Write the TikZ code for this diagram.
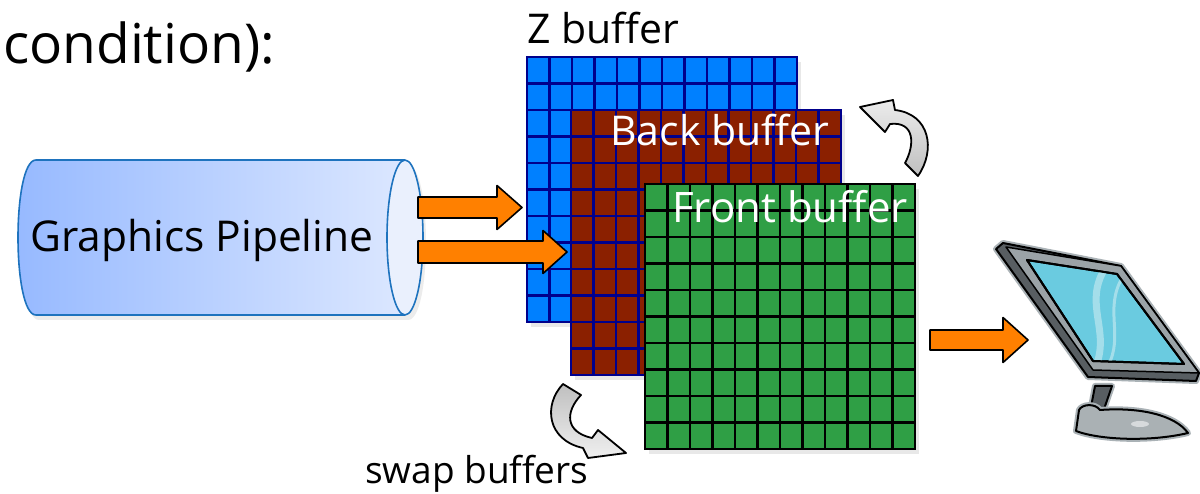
\documentclass[tikz,border=0pt]{standalone}
\usepackage{fontspec}
\setmainfont[Ligatures=NoCommon]{Open Sans}
\usetikzlibrary{calc,shadows}

\definecolor{zblue}{RGB}{0,128,255}
\definecolor{navy}{RGB}{0,0,140}
\definecolor{backred}{RGB}{139,32,0}
\definecolor{frontgreen}{RGB}{47,159,69}
\definecolor{arroworange}{RGB}{255,128,0}
\definecolor{pipeleft}{RGB}{150,185,255}
\definecolor{piperight}{RGB}{224,234,255}
\definecolor{pipeend}{RGB}{234,240,253}
\definecolor{pipeline}{RGB}{30,115,190}
\definecolor{screencyan}{RGB}{106,203,224}
\definecolor{screenglare}{RGB}{164,222,234}
\definecolor{framedark}{RGB}{88,94,98}
\definecolor{framelight}{RGB}{155,163,167}
\definecolor{halo}{RGB}{170,178,182}

% a 12 x 10 pixel buffer: #1,#2 top-left corner, #3 fill, #4 grid colour
\newcommand\drawbuffer[4]{%
  \fill[#3, drop shadow={opacity=0.18, shadow xshift=4pt, shadow yshift=-5pt}]
    (#1,#2) rectangle ++(270,265);
  \foreach \i in {0,...,12}
    \draw[#4, line width=2.6pt, line cap=rect] ({#1+22.5*\i},#2) -- ++(0,265);
  \foreach \j in {0,...,10}
    \draw[#4, line width=2.6pt, line cap=rect] (#1,{#2+26.5*\j}) -- ++(270,0);
}

% straight block arrow from tail point #1 to tip #2
% #3 half body height, #4 half head height, #5 head length
\newcommand\blockarrow[5]{%
  \draw[orangearrow]
    ($(#1)+(0,-#3)$) -- ($(#2)+(-#5,-#3)$) -- ($(#2)+(-#5,-#4)$) -- (#2)
    -- ($(#2)+(-#5,#4)$) -- ($(#2)+(-#5,#3)$) -- ($(#1)+(0,#3)$) -- cycle;
}

\begin{document}
\begin{tikzpicture}[x=1pt, y=-1pt, line join=round,
  txt/.style={inner sep=0pt, anchor=base west},
  orangearrow/.style={fill=arroworange, draw=black, line width=1.6pt, miter limit=4},
  swaparrow/.style={draw=black, line width=1.8pt},
  monitorpart/.style={draw=black, line width=2pt,
    preaction={draw=halo, line width=6pt}}]

\useasboundingbox[fill=white] (0,0) rectangle (1200,494);

% heading text
\node[txt, font=\fontsize{55}{57}\selectfont] (heading) at (3,64) {condition):};

% ---- graphics pipeline cylinder ----
\path[left color=pipeleft, right color=piperight,
      drop shadow={opacity=0.15, shadow xshift=3pt, shadow yshift=-5pt}]
  (36,160) -- (405,160) .. controls (429,160) and (429,315) .. (405,315)
  -- (36,315) .. controls (12,315) and (12,160) .. (36,160) -- cycle;
\draw[pipeline, line width=1.6pt]
  (405,160) -- (36,160) .. controls (12,160) and (12,315) .. (36,315) -- (405,315);
\draw[pipeline, line width=1.6pt, fill=pipeend] (405,237.5) ellipse [x radius=18, y radius=77.5];
\node[txt, font=\fontsize{42.5}{44}\selectfont] (pipe) at (30,252) {Graphics Pipeline};

% ---- buffers ----
\drawbuffer{527}{57}{zblue}{navy}
\drawbuffer{571}{110}{backred}{navy}
\drawbuffer{645}{184}{frontgreen}{black}

\node[txt, font=\fontsize{41}{43}\selectfont] (zlabel) at (527,44) {Z buffer};
\node[txt, white, font=\fontsize{41}{43}\selectfont] (backlabel) at (610,146) {Back buffer};
\node[txt, white, font=\fontsize{42}{44}\selectfont] (frontlabel) at (672,223) {Front buffer};
\node[txt, font=\fontsize{37}{39}\selectfont] (swaplabel) at (365,483) {swap buffers};

% ---- data flow arrows ----
\coordinate (pipeout1) at (418,207.5);
\coordinate (zin) at (522,207.5);
\coordinate (pipeout2) at (418,252);
\coordinate (backin) at (567,252);
\coordinate (frontout) at (930,340);
\coordinate (screenin) at (1028,340);
\blockarrow{pipeout1}{zin}{10.5}{22}{25}
\blockarrow{pipeout2}{backin}{11}{21.5}{24}
\blockarrow{frontout}{screenin}{10}{22.5}{25}

% ---- swap arrows ----
\draw[swaparrow, top color=gray!15, bottom color=gray!50]
  (918,176) .. controls (936,150) and (930,114) .. (895,110)
  -- (893,100) -- (860,107) -- (885,132) -- (890,124)
  .. controls (915,121) and (915,145) .. (905,163) -- cycle;
\draw[swaparrow, top color=gray!50, bottom color=gray!12]
  (563,384) .. controls (543,405) and (547,440) .. (583,448)
  -- (588,458) -- (626,453) -- (598,430) -- (592,438)
  .. controls (565,432) and (565,412) .. (581,395) -- cycle;

% ---- monitor ----
\coordinate (screenTL) at (1027,260);
\coordinate (screenTR) at (1117,274);
\coordinate (screenBR) at (1184,364);
\coordinate (screenBL) at (1093,361);
% stand
\draw[monitorpart, fill=framedark]
  (1095,386) -- (1112,386) -- (1103,412) -- (1090,412) -- cycle;
\draw[monitorpart, fill=framelight!85!white]
  (1076,431) -- (1079,410) .. controls (1082,404) and (1095,403) .. (1100,410)
  .. controls (1140,407) and (1175,415) .. (1188,433)
  .. controls (1150,442) and (1100,440) .. (1076,431) -- cycle;
\fill[framelight!40!white] (1140,424) ellipse [x radius=9, y radius=3];
% frame
\draw[monitorpart, fill=framedark]
  (996,249) -- (1003,243) -- (1121,266) -- (1199,373) -- (1196,381) -- (1088,377) -- cycle;
\draw[draw=black, line width=1.5pt, fill=framelight]
  (1006,247) -- (1121,266) -- (1199,373) -- (1093,370) -- cycle;
% screen with glare
\draw[black, line width=2pt, fill=screencyan]
  (screenTL) -- (screenTR) -- (screenBR) -- (screenBL) -- cycle;
\begin{scope}
  \clip (screenTL) -- (screenTR) -- (screenBR) -- (screenBL) -- cycle;
  \draw[screenglare, line width=7pt]
    (1104,270) .. controls (1084,305) and (1110,330) .. (1096,366);
  \draw[screenglare, line width=3pt]
    (1122,278) .. controls (1104,310) and (1124,335) .. (1108,366);
\end{scope}
\draw[black, line width=2pt]
  (screenTL) -- (screenTR) -- (screenBR) -- (screenBL) -- cycle;

\end{tikzpicture}
\end{document}
